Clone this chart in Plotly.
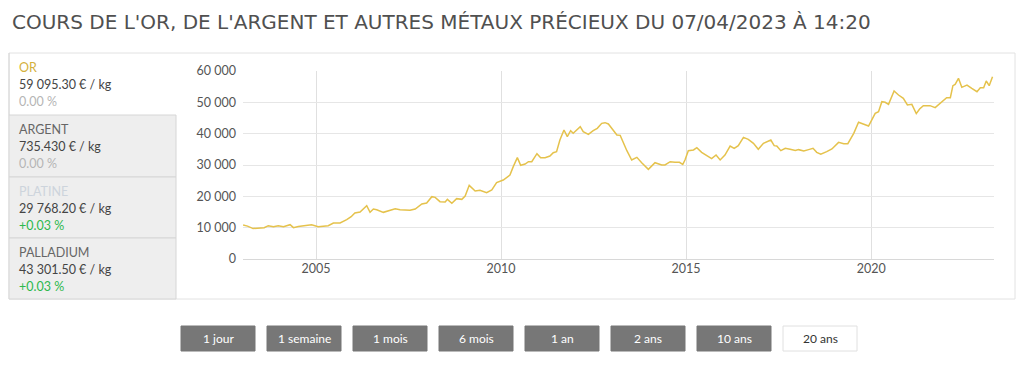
import plotly.graph_objects as go

# ---- data ----
years = [2003.03, 2003.15, 2003.30, 2003.45, 2003.60, 2003.71, 2003.85, 2003.98, 2004.12, 2004.30,
         2004.39, 2004.52, 2004.66, 2004.88, 2005.06, 2005.20, 2005.33, 2005.47, 2005.65, 2005.83,
         2005.95, 2006.05, 2006.19, 2006.37, 2006.46, 2006.55, 2006.64, 2006.82, 2006.95, 2007.14,
         2007.27, 2007.54, 2007.68, 2007.86, 2007.99, 2008.13, 2008.22, 2008.35, 2008.49, 2008.55,
         2008.67, 2008.80, 2008.94, 2009.03, 2009.14, 2009.30, 2009.43, 2009.61, 2009.75, 2009.88,
         2010.06, 2010.24, 2010.33, 2010.44, 2010.53, 2010.65, 2010.74, 2010.83, 2010.97, 2011.07,
         2011.19, 2011.32, 2011.41, 2011.50, 2011.59, 2011.70, 2011.79, 2011.88, 2011.95, 2012.14,
         2012.22, 2012.36, 2012.49, 2012.60, 2012.72, 2012.81, 2012.90, 2013.04, 2013.13, 2013.22,
         2013.31, 2013.40, 2013.53, 2013.67, 2013.80, 2013.98, 2014.16, 2014.34, 2014.43, 2014.57,
         2014.70, 2014.82, 2014.91, 2014.97, 2015.06, 2015.20, 2015.29, 2015.42, 2015.56, 2015.69,
         2015.81, 2015.92, 2016.05, 2016.19, 2016.30, 2016.41, 2016.55, 2016.68, 2016.82, 2016.95,
         2017.09, 2017.18, 2017.29, 2017.38, 2017.45, 2017.56, 2017.68, 2017.81, 2017.95, 2018.04,
         2018.18, 2018.31, 2018.43, 2018.53, 2018.64, 2018.80, 2018.94, 2019.12, 2019.26, 2019.37,
         2019.53, 2019.66, 2019.79, 2019.93, 2020.11, 2020.20, 2020.29, 2020.38, 2020.47, 2020.62,
         2020.74, 2020.87, 2020.98, 2021.10, 2021.22, 2021.31, 2021.41, 2021.59, 2021.73, 2021.91,
         2022.04, 2022.14, 2022.21, 2022.27, 2022.36, 2022.45, 2022.59, 2022.72, 2022.86, 2022.95,
         2023.04, 2023.11, 2023.19, 2023.28]
gold_eur_kg = [10850, 10500, 9700, 9800, 10000, 10630, 10300, 10630, 10300, 10960,
               10000, 10400, 10640, 10960, 10300, 10500, 10640, 11490, 11490, 12550,
               13500, 14680, 15000, 17020, 14890, 15950, 15740, 14890, 15420, 16060,
               15740, 15530, 15950, 17550, 17870, 19890, 19680, 18300, 18190, 19040,
               17770, 19260, 19040, 20100, 23510, 21700, 21910, 21170, 22020, 24360,
               25210, 26810, 29470, 32340, 29900, 30320, 31060, 31060, 33610, 32340,
               32340, 32870, 33930, 34250, 37980, 41170, 39040, 40960, 40110, 42230,
               40640, 39790, 40960, 41700, 43300, 43510, 43090, 40960, 39580, 39470,
               36700, 34570, 31600, 32450, 30740, 28620, 30740, 30000, 30000, 31060,
               30850, 30850, 30210, 31600, 34570, 34790, 35530, 34040, 32980, 32020,
               33190, 31600, 33190, 36060, 35320, 36170, 38830, 38190, 36910, 35000,
               36910, 37340, 37980, 36170, 36060, 34570, 35320, 35050, 34600, 34900,
               34470, 34900, 35320, 34040, 33420, 34250, 35110, 37230, 36810, 36810,
               40110, 43620, 42990, 42450, 46490, 47020, 50210, 50000, 49360, 53620,
               52340, 51290, 49150, 49360, 46390, 47870, 48940, 48940, 48300, 50000,
               51490, 51490, 55320, 55740, 57660, 54790, 55530, 54470, 53400, 54680,
               54680, 56810, 55320, 58190]

x_ticks = [2005, 2010, 2015, 2020]
x_tick_labels = ["2005", "2010", "2015", "2020"]
y_ticks = [0, 10000, 20000, 30000, 40000, 50000, 60000]
y_tick_labels = ["0", "10 000", "20 000", "30 000", "40 000", "50 000", "60 000"]

metals = ["OR", "ARGENT", "PLATINE", "PALLADIUM"]
prices = ["59 095.30 € / kg", "735.430 € / kg", "29 768.20 € / kg", "43 301.50 € / kg"]
changes = ["0.00 %", "0.00 %", "+0.03 %", "+0.03 %"]
buttons = ["1 jour", "1 semaine", "1 mois", "6 mois", "1 an", "2 ans", "10 ans", "20 ans"]

title = "COURS DE L'OR, DE L'ARGENT ET AUTRES MÉTAUX PRÉCIEUX DU 07/04/2023 À 14:20"

# ---- layout geometry (pixels) ----
W, H = 1024, 365
L, R, T, B = 243, 994, 71, 259
FONT = "Lato"


def px(x):
    return (x - L) / (R - L)


def py(y):
    return (B - y) / (B - T)


def vline(x, y0, y1, color):
    return dict(type="line", xref="paper", yref="paper", x0=px(x), x1=px(x),
                y0=py(y0), y1=py(y1), line=dict(color=color, width=1), layer="below")


fig = go.Figure()
fig.add_trace(go.Scatter(x=years, y=gold_eur_kg, mode="lines",
                         line=dict(color="#e5c24c", width=1.5), hoverinfo="skip",
                         showlegend=False))

shapes = []
annotations = []

# outer container
shapes.append(dict(type="rect", xref="paper", yref="paper", x0=px(9), x1=px(1015),
                   y0=py(299), y1=py(53), line=dict(color="#e2e2e2", width=1),
                   fillcolor="rgba(0,0,0,0)", layer="below"))

# left panel sections
sec_tops = [53, 115, 177, 238]
sec_bots = [115, 177, 238, 299]
name_colors = ["#d4b13c", "#666666", "#cdd4dc", "#666666"]
change_colors = ["#b5b5b5", "#b5b5b5", "#2db84d", "#2db84d"]
for i, m in enumerate(metals):
    if i > 0:
        shapes.append(dict(type="rect", xref="paper", yref="paper", x0=px(9), x1=px(176),
                           y0=py(sec_bots[i]), y1=py(sec_tops[i]),
                           line=dict(color="#d6d6d6", width=1), fillcolor="#eeeeee",
                           layer="below"))
    top = sec_tops[i]
    annotations.append(dict(text=m, x=px(17), y=py(top + 14), xref="paper", yref="paper",
                            xanchor="left", yanchor="middle", showarrow=False,
                            font=dict(family=FONT, size=12.5, color=name_colors[i])))
    annotations.append(dict(text=prices[i], x=px(17), y=py(top + 31), xref="paper", yref="paper",
                            xanchor="left", yanchor="middle", showarrow=False,
                            font=dict(family=FONT, size=12.5, color="#444444")))
    annotations.append(dict(text=changes[i], x=px(17), y=py(top + 48), xref="paper", yref="paper",
                            xanchor="left", yanchor="middle", showarrow=False,
                            font=dict(family=FONT, size=12.5, color=change_colors[i])))
shapes.append(vline(9, 53, 115, "#d6d6d6"))

# buttons
bx0 = 181
for i, b in enumerate(buttons):
    x0 = bx0 + i * 86
    x1 = x0 + 74
    active = (i == len(buttons) - 1)
    shapes.append(dict(type="rect", xref="paper", yref="paper", x0=px(x0), x1=px(x1),
                       y0=py(351), y1=py(326),
                       line=dict(color="#e0e0e0" if active else "#777777", width=1),
                       fillcolor="#ffffff" if active else "#777777"))
    annotations.append(dict(text=b, x=px((x0 + x1) / 2), y=py(338.5), xref="paper", yref="paper",
                            xanchor="center", yanchor="middle", showarrow=False,
                            font=dict(family=FONT, size=12,
                                      color="#333333" if active else "#ffffff")))

# title
annotations.append(dict(text=title, x=px(10), y=py(22), xref="paper", yref="paper",
                        xanchor="left", yanchor="middle", showarrow=False,
                        font=dict(family="DejaVu Sans", size=20, color="#505050")))

fig.update_layout(
    width=W, height=H,
    margin=dict(l=L, r=W - R, t=T, b=H - B, pad=0),
    paper_bgcolor="#ffffff", plot_bgcolor="#ffffff",
    shapes=shapes, annotations=annotations,
    xaxis=dict(range=[2003.027, 2023.32], tickvals=x_ticks, ticktext=x_tick_labels,
               showgrid=True, gridcolor="#e0e0e0", gridwidth=1, zeroline=False,
               showline=False, ticks="", tickfont=dict(family=FONT, size=12.5, color="#555555"),
               fixedrange=True),
    yaxis=dict(range=[0, 60000], tickvals=y_ticks, ticktext=y_tick_labels,
               showgrid=True, gridcolor="#e6e6e6", gridwidth=1, zeroline=True,
               zerolinecolor="#d8d8d8", zerolinewidth=1, showline=False, ticks="",
               ticklabelstandoff=6,
               tickfont=dict(family=FONT, size=12.5, color="#555555"), fixedrange=True),
    hovermode=False,
)

fig.write_html("out.html", config={"displayModeBar": False},
               post_script="document.body.style.margin='0';")
